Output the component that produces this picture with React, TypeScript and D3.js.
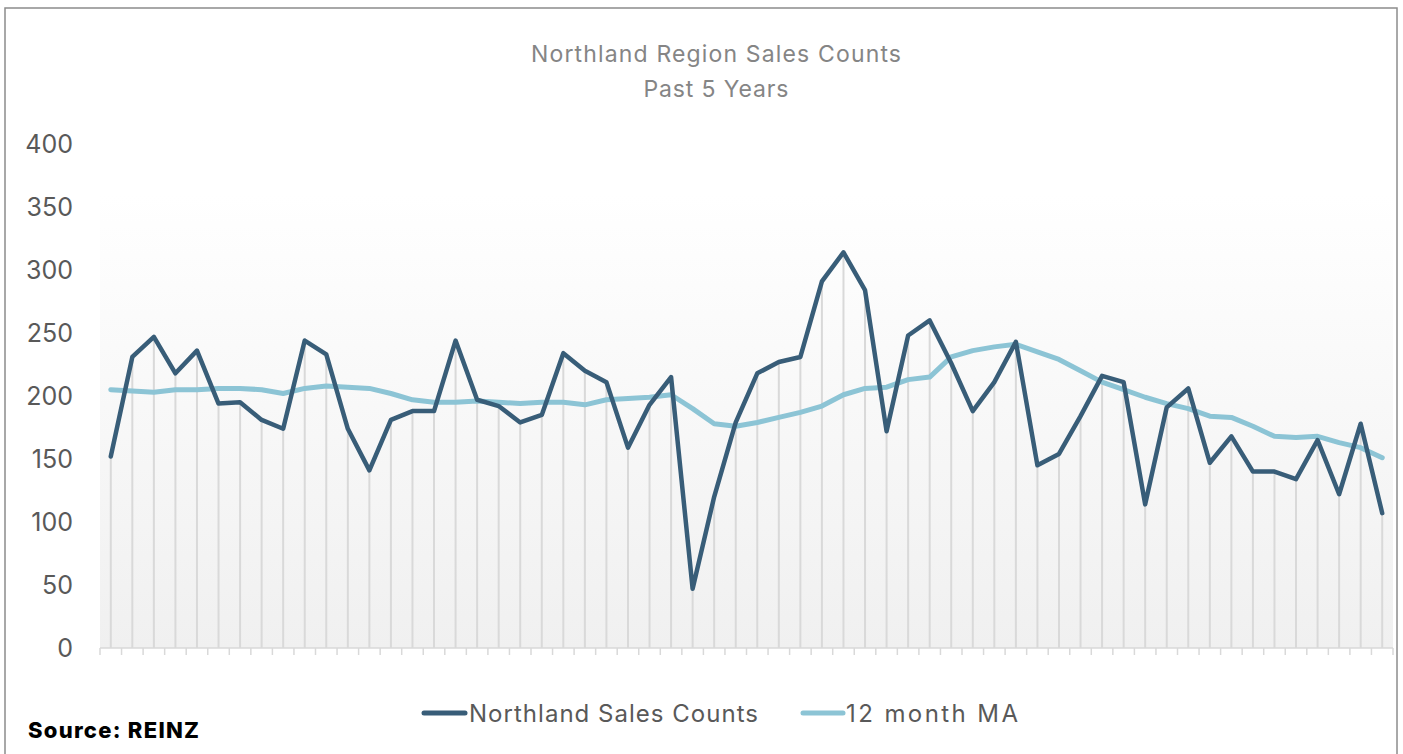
import { line, range, scaleBand, scaleLinear } from "d3"

const salesCounts = [
  152, 231, 247, 218, 236, 194, 195, 181, 174, 244,
  233, 174, 141, 181, 188, 188, 244, 197, 192, 179,
  185, 234, 220, 211, 159, 193, 215, 47, 120, 179,
  218, 227, 231, 291, 314, 284, 172, 248, 260, 226,
  188, 211, 243, 145, 154, 184, 216, 211, 114, 191,
  206, 147, 168, 140, 140, 134, 165, 122, 178, 107,
]

const movingAverage = [
  205, 204, 203, 205, 205, 206, 206, 205, 202, 206,
  208, 207, 206, 202, 197, 195, 195, 196, 195, 194,
  195, 195, 193, 197, 198, 199, 201, 190, 178, 176,
  179, 183, 187, 192, 201, 206, 207, 213, 215, 231,
  236, 239, 241, 235, 229, 220, 211, 205, 199, 194,
  190, 184, 183, 176, 168, 167, 168, 163, 159, 151,
]

const yTicks = [0, 50, 100, 150, 200, 250, 300, 350, 400]

const titleLines = ["Northland Region Sales Counts", "Past 5 Years"]

const seriesNames = ["Northland Sales Counts", "12 month MA"]

const darkBlue = "#385d78"
const lightBlue = "#8cc4d5"
const font = "Inter, 'Noto Sans', sans-serif"

const App = () => {
  const width = 1403
  const height = 754
  const left = 100
  const right = 1393
  const top = 144
  const bottom = 648

  const months = range(salesCounts.length)

  const x = scaleBand<number>().domain(months).range([left, right])
  const y = scaleLinear().domain([0, 400]).range([bottom, top])
  const cx = (i: number) => (x(i) ?? 0) + x.bandwidth() / 2

  const salesLine = line<number>().x((d, i) => cx(i)).y(d => y(d))

  const tickXs = months.map(i => x(i) ?? 0).concat([right])

  return (
    <svg width={width} height={height} style={{ position: "absolute", left: 0, top: 0 }}>
      <defs>
        <linearGradient id="plotBg" x1="0" y1="0" x2="0" y2="1">
          <stop offset="0" stopColor="#ffffff" />
          <stop offset="0.1" stopColor="#ffffff" />
          <stop offset="1" stopColor="#f0f0f0" />
        </linearGradient>
      </defs>
      <rect width={width} height={height} fill="#ffffff" />
      <rect x={5} y={8} width={1392} height={760} fill="none" stroke="#8c8c8c" strokeWidth={1.5} />

      <g fontFamily={font} fill="#858585" fontSize={23} textAnchor="middle">
        <text x={716} y={62} textLength={370} lengthAdjust="spacing">{titleLines[0]}</text>
        <text x={716} y={97} textLength={145} lengthAdjust="spacing">{titleLines[1]}</text>
      </g>

      <rect x={left} y={top} width={right - left} height={bottom - top} fill="url(#plotBg)" />

      <g stroke="#d9d9d9" strokeWidth={2}>
        {salesCounts.map((d, i) => (
          <line key={i} x1={cx(i)} x2={cx(i)} y1={y(d)} y2={bottom} />
        ))}
      </g>

      <g stroke="#d9d9d9" strokeWidth={1.5}>
        <line x1={left} x2={right} y1={bottom} y2={bottom} />
        {tickXs.map((tx, i) => (
          <line key={i} x1={tx} x2={tx} y1={bottom} y2={bottom + 7} />
        ))}
      </g>

      <g fontFamily={font} fill="#595959" fontSize={25} textAnchor="end">
        {yTicks.map(t => (
          <text key={t} x={73} y={y(t) + 9}>{t}</text>
        ))}
      </g>

      <path d={salesLine(movingAverage) ?? ""} fill="none" stroke={lightBlue} strokeWidth={5} strokeLinejoin="round" strokeLinecap="round" />
      <path d={salesLine(salesCounts) ?? ""} fill="none" stroke={darkBlue} strokeWidth={4.5} strokeLinejoin="round" strokeLinecap="round" />

      <g fontFamily={font} fill="#595959" fontSize={24}>
        <line x1={424} x2={465} y1={713} y2={713} stroke={darkBlue} strokeWidth={5} strokeLinecap="round" />
        <text x={469} y={722} textLength={289} lengthAdjust="spacing">{seriesNames[0]}</text>
        <line x1={803} x2={843} y1={713} y2={713} stroke={lightBlue} strokeWidth={5} strokeLinecap="round" />
        <text x={846} y={722} textLength={172} lengthAdjust="spacing">{seriesNames[1]}</text>
      </g>

      <text x={28} y={738} fontFamily={font} fontWeight={800} fontSize={22} fill="#000000" textLength={171} lengthAdjust="spacing">Source: REINZ</text>
    </svg>
  )
}

export default App
